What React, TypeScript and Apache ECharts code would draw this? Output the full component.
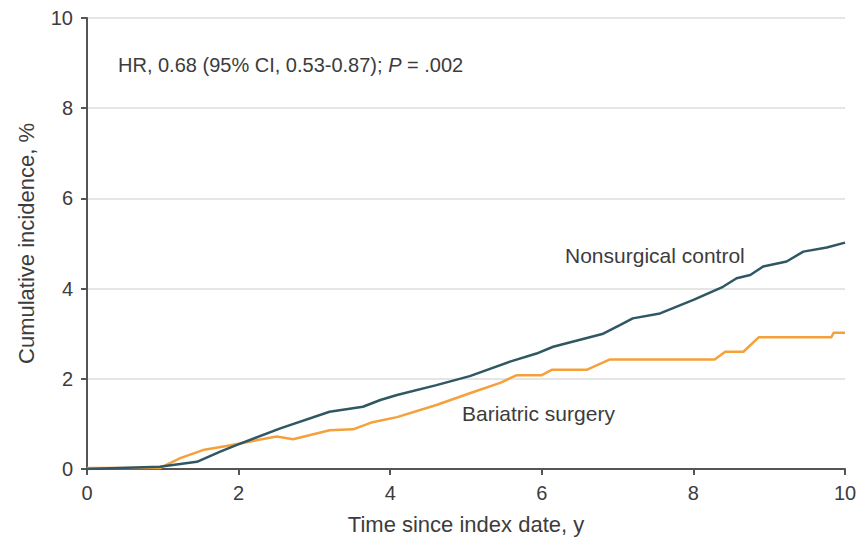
import React, { useEffect, useRef } from "react";
import * as echarts from "echarts";

const controlX = [0, 0.96, 1.45, 1.75, 1.97, 2.55, 3.2, 3.64, 3.87, 4.09, 4.61, 5.05, 5.58, 5.93, 6.15, 6.81, 7.03, 7.2, 7.56, 8.0, 8.39, 8.57, 8.75, 8.92, 9.23, 9.45, 9.76, 10.0];
const controlY = [0, 0.05, 0.16, 0.38, 0.53, 0.9, 1.27, 1.38, 1.53, 1.64, 1.86, 2.06, 2.38, 2.56, 2.71, 3.0, 3.19, 3.34, 3.45, 3.75, 4.04, 4.23, 4.3, 4.49, 4.6, 4.82, 4.91, 5.02];

const surgeryX = [0, 0.96, 1.23, 1.53, 1.84, 2.5, 2.72, 3.2, 3.51, 3.75, 4.09, 4.61, 5.05, 5.45, 5.67, 6.0, 6.13, 6.59, 6.9, 8.28, 8.42, 8.66, 8.86, 9.82, 9.85, 10.0];
const surgeryY = [0.02, 0.02, 0.24, 0.42, 0.51, 0.72, 0.66, 0.86, 0.88, 1.03, 1.15, 1.42, 1.68, 1.91, 2.08, 2.08, 2.2, 2.2, 2.43, 2.43, 2.6, 2.6, 2.92, 2.92, 3.02, 3.02];

const xTicks = [0, 2, 4, 6, 8, 10];
const yTicks = [0, 2, 4, 6, 8, 10];

const FONT = "Liberation Sans, Arial, sans-serif";
const TEXT = "#3c3c3c";

export default function App() {
  const ref = useRef<HTMLDivElement>(null);
  useEffect(() => {
    if (!ref.current) return;
    const chart = echarts.init(ref.current, null, { renderer: "svg" });
    const zip = (xs: number[], ys: number[]) => xs.map((x, i) => [x, ys[i]]);
    chart.setOption({
      animation: false,
      textStyle: { fontFamily: FONT },
      grid: { left: 87, right: 17, top: 18, bottom: 74, containLabel: false },
      xAxis: {
        type: "value",
        min: xTicks[0],
        max: xTicks[xTicks.length - 1],
        interval: 2,
        name: "Time since index date, y",
        nameLocation: "middle",
        nameGap: 44,
        nameTextStyle: { fontSize: 22, color: TEXT, fontFamily: FONT },
        axisLine: { lineStyle: { color: "#555", width: 2 } },
        axisTick: { show: true, length: 6, lineStyle: { color: "#555", width: 2 } },
        axisLabel: { fontSize: 20, color: TEXT, margin: 14, fontFamily: FONT },
        splitLine: { show: false },
      },
      yAxis: {
        type: "value",
        min: yTicks[0],
        max: yTicks[yTicks.length - 1],
        interval: 2,
        name: "Cumulative incidence, %",
        nameLocation: "middle",
        nameGap: 50,
        nameRotate: 90,
        nameTextStyle: { fontSize: 22, color: TEXT, fontFamily: FONT },
        axisLine: { show: true, lineStyle: { color: "#555", width: 2 } },
        axisTick: { show: true, length: 6, lineStyle: { color: "#555", width: 2 } },
        axisLabel: { fontSize: 20, color: TEXT, margin: 14, fontFamily: FONT },
        splitLine: { show: true, lineStyle: { color: "#dcdcdc", width: 1.5 } },
      },
      series: [
        {
          name: "Bariatric surgery",
          type: "line",
          data: zip(surgeryX, surgeryY),
          showSymbol: false,
          lineStyle: { color: "#f5a13b", width: 2.5 },
          itemStyle: { color: "#f5a13b" },
          z: 2,
        },
        {
          name: "Nonsurgical control",
          type: "line",
          data: zip(controlX, controlY),
          showSymbol: false,
          lineStyle: { color: "#2f5764", width: 2.5 },
          itemStyle: { color: "#2f5764" },
          z: 3,
        },
      ],
      graphic: [
        {
          type: "text",
          left: 118,
          top: 55,
          style: {
            text: "HR, 0.68 (95% CI, 0.53-0.87); {i|P} = .002",
            fontSize: 20,
            fontFamily: FONT,
            fill: TEXT,
            rich: { i: { fontStyle: "italic", fontSize: 20, fontFamily: FONT, fill: TEXT } },
          },
        },
        {
          type: "text",
          left: 565,
          top: 245,
          style: { text: "Nonsurgical control", fontSize: 21, fontFamily: FONT, fill: TEXT },
        },
        {
          type: "text",
          left: 462,
          top: 403,
          style: { text: "Bariatric surgery", fontSize: 21, fontFamily: FONT, fill: TEXT },
        },
      ],
    });
    return () => chart.dispose();
  }, []);
  return (
    <div
      ref={ref}
      style={{ position: "absolute", left: 0, top: 0, width: 862, height: 543 }}
    />
  );
}
